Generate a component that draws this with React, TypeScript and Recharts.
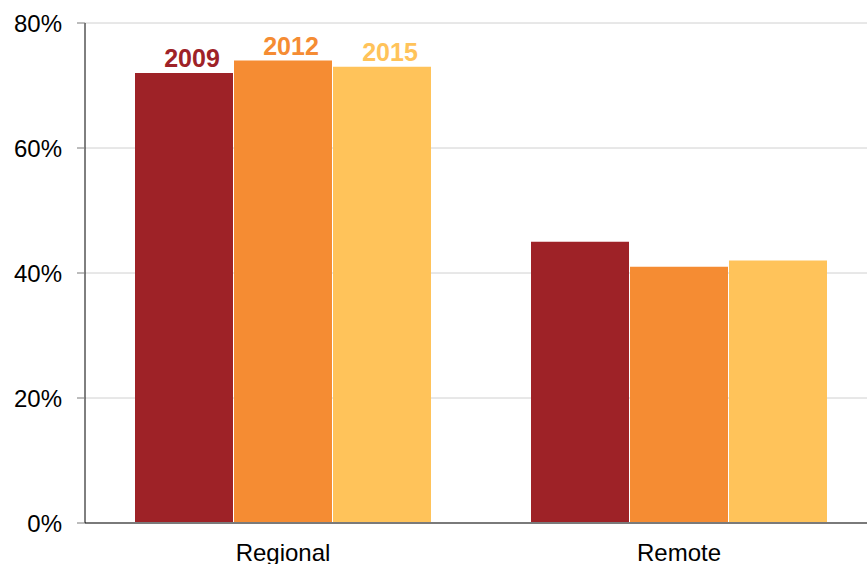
import { Bar, BarChart, CartesianGrid, XAxis, YAxis } from "recharts";

const categories = ["Regional", "Remote"];
const values2009 = [72, 45];
const values2012 = [74, 41];
const values2015 = [73, 42];
const yTicks = [0, 20, 40, 60, 80];

const FONT = "'Liberation Sans', Arial, sans-serif";

const data = categories.map((name, i) => ({
  name,
  y2009: values2009[i],
  y2012: values2012[i],
  y2015: values2015[i],
}));

// series name only over the first group of bars
const seriesLabel = (text: string, color: string) => (props: any) => {
  if (props.index !== 0) return null;
  const x = Number(props.x) + Number(props.width) / 2 + 8;
  const y = Number(props.y) - 6;
  return (
    <text x={x} y={y} textAnchor="middle" fill={color} fontSize={25} fontWeight="bold" fontFamily={FONT}>
      {text}
    </text>
  );
};

export default function App() {
  return (
    <div style={{ position: "fixed", left: 0, top: 0, width: 867, height: 564, overflow: "hidden", background: "#fff" }}>
      <BarChart
        width={900}
        height={564}
        data={data}
        margin={{ top: 23, right: 23, left: 0, bottom: 0 }}
        barGap={1}
        barSize={98}
      >
        <CartesianGrid vertical={false} stroke="#d0d0d0" strokeWidth={1} />
        <XAxis
          dataKey="name"
          height={41}
          tickSize={0}
          tickMargin={21}
          axisLine={{ stroke: "#7a7a7a", strokeWidth: 2 }}
          tick={{ fontSize: 24, fill: "#000", fontFamily: FONT }}
        />
        <YAxis
          width={85}
          domain={[0, 80]}
          ticks={yTicks}
          tickFormatter={(v: number) => `${v}%`}
          tickSize={8}
          tickMargin={15}
          axisLine={{ stroke: "#000" }}
          tickLine={{ stroke: "#7a7a7a" }}
          tick={{ fontSize: 24, fill: "#000", fontFamily: FONT }}
        />
        <Bar dataKey="y2009" fill="#9e2227" isAnimationActive={false} label={seriesLabel("2009", "#9e2227")} />
        <Bar dataKey="y2012" fill="#f58c33" isAnimationActive={false} label={seriesLabel("2012", "#f58c33")} />
        <Bar dataKey="y2015" fill="#ffc35a" isAnimationActive={false} label={seriesLabel("2015", "#ffc35a")} />
      </BarChart>
    </div>
  );
}
